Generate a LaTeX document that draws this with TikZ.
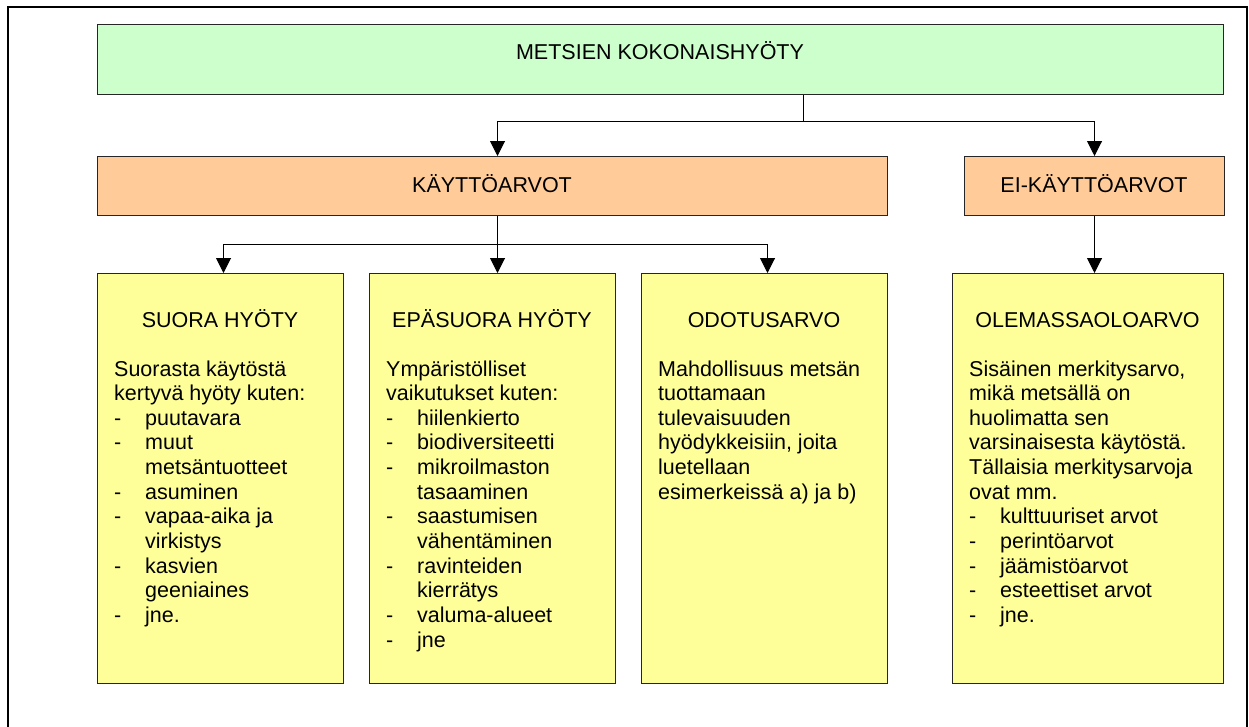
\documentclass[tikz,border=0pt]{standalone}
\usepackage{fontspec}
\setmainfont{Liberation Sans}
\usetikzlibrary{arrows.meta}
\definecolor{wholegreen}{HTML}{CCFFCC}
\definecolor{valorange}{HTML}{FFCC99}
\definecolor{partyellow}{HTML}{FFFF99}
\newcommand{\itm}[1]{\makebox[31pt][l]{-}#1}
\newcommand{\cnt}[1]{\hspace*{31pt}#1}

\begin{document}
\begin{tikzpicture}[x=1pt, y=-1pt,
    every node/.style = {font=\fontsize{21.5}{24.65}\selectfont},
    box/.style = {
        draw=black!85,
        line width=1pt,
        inner sep=0pt,
        anchor=north west
    },
    whole/.style = {box, fill=wholegreen, minimum height=70},
    valbox/.style = {box, fill=valorange, minimum height=59},
    part/.style = {box, fill=partyellow, minimum height=410},
    title/.style = {anchor=base, inner sep=0pt},
    body/.style = {anchor=base west, inner sep=0pt},
    line/.style = {line width=1pt},
    arr/.style = {line width=1pt, -{Triangle[length=15pt, width=15pt]}}
]
    \useasboundingbox (0,0) rectangle (1249,726);
    % outer frame
    \draw[line width=2pt] (8,727) -- (8,7) -- (1247,7) -- (1247,727);

    % boxes
    \node[whole, minimum width=1126] (top) at (97,24) {};
    \node[valbox, minimum width=790] (kaytto) at (97,156) {};
    \node[valbox, minimum width=260] (eikaytto) at (964,156) {};
    \node[part, minimum width=246] (suora) at (97,273) {};
    \node[part, minimum width=246] (epasuora) at (369,273) {};
    \node[part, minimum width=246] (odotus) at (641,273) {};
    \node[part, minimum width=271] (olemassa) at (952,273) {};

    % headings
    \node[title] (toplbl) at (660,59) {METSIEN KOKONAISHYÖTY};
    \node[title] (kayttolbl) at (492,192) {KÄYTTÖARVOT};
    \node[title] (eikayttolbl) at (1094,192) {EI-KÄYTTÖARVOT};
    \node[title] (suoralbl) at (220,327) {SUORA HYÖTY};
    \node[title] (epasuoralbl) at (492,327) {EPÄSUORA HYÖTY};
    \node[title] (odotuslbl) at (764,327) {ODOTUSARVO};
    \node[title] (olemassalbl) at (1087.5,327) {OLEMASSAOLOARVO};

    % texts
    \node[body] (suoratxt) at (114,376) {\begin{tabular}[t]{@{}l@{}}
        Suorasta käytöstä\\ kertyvä hyöty kuten:\\
        \itm{puutavara}\\ \itm{muut}\\ \cnt{metsäntuotteet}\\
        \itm{asuminen}\\ \itm{vapaa-aika ja}\\ \cnt{virkistys}\\
        \itm{kasvien}\\ \cnt{geeniaines}\\ \itm{jne.}
    \end{tabular}};
    \node[body] (epasuoratxt) at (386,376) {\begin{tabular}[t]{@{}l@{}}
        Ympäristölliset\\ vaikutukset kuten:\\
        \itm{hiilenkierto}\\ \itm{biodiversiteetti}\\
        \itm{mikroilmaston}\\ \cnt{tasaaminen}\\
        \itm{saastumisen}\\ \cnt{vähentäminen}\\
        \itm{ravinteiden}\\ \cnt{kierrätys}\\
        \itm{valuma-alueet}\\ \itm{jne}
    \end{tabular}};
    \node[body] (odotustxt) at (658,376) {\begin{tabular}[t]{@{}l@{}}
        Mahdollisuus metsän\\ tuottamaan\\ tulevaisuuden\\
        hyödykkeisiin, joita\\ luetellaan\\ esimerkeissä a) ja b)
    \end{tabular}};
    \node[body] (olemassatxt) at (969,376) {\begin{tabular}[t]{@{}l@{}}
        Sisäinen merkitysarvo,\\ mikä metsällä on\\ huolimatta sen\\
        varsinaisesta käytöstä.\\ Tällaisia merkitysarvoja\\ ovat mm.\\
        \itm{kulttuuriset arvot}\\ \itm{perintöarvot}\\
        \itm{jäämistöarvot}\\ \itm{esteettiset arvot}\\ \itm{jne.}
    \end{tabular}};

    % connectors
    \coordinate (fork) at (803,121);
    \coordinate (fork2) at (497,244);
    \draw[line] (top.south -| fork) -- (fork);
    \draw[arr] (fork) -| ([xshift=5]kaytto.north);
    \draw[arr] (fork) -| (eikaytto.north);
    \draw[arr] ([xshift=5]kaytto.south) -- ([xshift=5]epasuora.north);
    \draw[arr] (fork2) -| ([xshift=3]suora.north);
    \draw[arr] (fork2) -| ([xshift=3]odotus.north);
    \draw[arr] (eikaytto.south) -- (eikaytto.south |- olemassa.north);
\end{tikzpicture}
\end{document}
